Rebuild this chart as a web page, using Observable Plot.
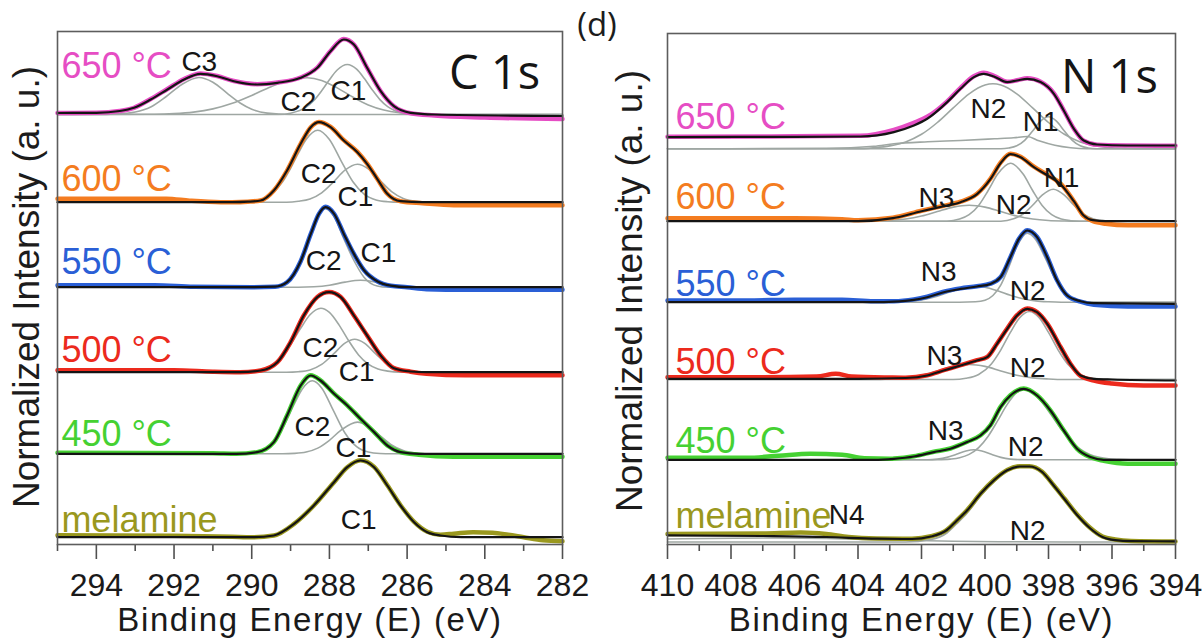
<!DOCTYPE html>
<html><head><meta charset="utf-8">
<script src="https://cdn.jsdelivr.net/npm/d3@7"></script>
<script src="https://cdn.jsdelivr.net/npm/@observablehq/plot@0.6"></script>
<style>
html,body{margin:0;padding:0;background:#fff;}
#wrap{position:relative;width:1204px;height:643px;overflow:hidden;background:#fff;font-family:"Liberation Sans",Arial,sans-serif;}
#left,#right{position:absolute;top:0;}
#left{left:0;} #right{left:600px;}
.ylab{position:absolute;font-size:37px;line-height:1;white-space:nowrap;color:#1c1c1c;transform:translate(-50%,-50%) rotate(-90deg);}
#tag{position:absolute;left:597px;top:1px;transform:translateX(-50%);font-family:"Open Sans",sans-serif;font-size:33px;line-height:normal;color:#1c1c1c;white-space:nowrap;z-index:5;}
</style></head>
<body><div id="wrap">
<div id="left"></div><div id="right"></div>
<div class="ylab" style="left:25.5px;top:287px">Normalized Intensity (a. u.)</div>
<div class="ylab" style="left:629px;top:291px">Normalized Intensity (a. u.)</div>
<div id="tag">(d)</div>
</div>
<script>
// ---------- shared ----------
const rowNames = ["650 °C", "600 °C", "550 °C", "500 °C", "450 °C", "melamine"];
const rowColors = ["#e64dc4", "#f47c20", "#2a5fd6", "#ec2a1d", "#45d132", "#9a981e"];
const axisTitle = "Binding Energy (E) (eV)";

// ---------- C 1s panel (binding energy eV, intensity a.u.) ----------
const cMajorTicks = [294, 292, 290, 288, 286, 284, 282];
const cMinorTicks = [295, 293, 291, 289, 287, 285, 283];
const cStackOffset = [430, 342.3, 257.3, 172.3, 90.7, 7.3];

const fitC650 = [[295,1.5],[294,1.7],[293.4,3.5],[293.03,6.7],[292.6,15],[292.17,25],[291.74,35],[291.32,40.7],[290.89,38.3],[290.46,33.3],[289.86,30],[289.34,31.7],[288.74,36.7],[288.31,46.7],[287.97,63.3],[287.63,75],[287.37,70],[287.03,46.7],[286.68,23.3],[286.34,8.3],[285.91,1.7],[285.3,0],[282,-1.5]];
const measC650 = [[295,1.5],[294,1.7],[293.4,3.5],[293.03,6.7],[292.6,15.5],[292.17,25.5],[291.74,35.5],[291.32,41],[290.89,38.5],[290.46,33.5],[289.86,30.3],[289.34,32],[288.74,37],[288.31,47],[287.97,63.5],[287.63,75.5],[287.37,70],[287.03,46.7],[286.68,23.3],[286.34,8.3],[285.91,1.2],[285.3,-1],[284,-3],[282,-4.5]];
const C3_650 = [[295,0],[294,0],[293.5,0.5],[293,2.5],[292.6,7.5],[292.2,18],[291.8,30],[291.36,37],[291,32.3],[290.6,20.2],[290.3,11.5],[290,5.3],[289.6,1.4],[289,0],[282,0]];
const C2_650 = [[295,0],[292.5,0.3],[292,0.9],[291.5,2.4],[291,5.6],[290.5,11.2],[290,19.1],[289.5,27.8],[289,34.6],[288.57,36.7],[288.2,34.1],[287.8,26.6],[287.4,17.5],[287,9.6],[286.6,4.5],[286.2,1.8],[285.8,0.6],[285.4,0],[282,0]];
const C1_650 = [[295,0],[289.3,0],[289,1.3],[288.6,7.3],[288.4,14],[288.2,23.7],[288,34.8],[287.8,44.5],[287.54,50],[287.3,45.3],[287.1,35.9],[286.9,24.8],[286.7,14.9],[286.5,7.8],[286.3,3.6],[286,0.9],[285.7,0],[282,0]];

const fitC600 = [[295,0],[290.5,0],[290.1,0.5],[289.77,1.7],[289.43,11.7],[289.09,31.7],[288.74,58.4],[288.48,75],[288.27,80],[287.97,75],[287.63,61.7],[287.28,50],[287.03,38.4],[286.77,23.4],[286.51,8.4],[286.17,1],[285.6,0],[282,0]];
const measC600 = [[295,3.5],[292.2,3.5],[291.6,1.5],[290.8,0],[290.5,0],[290.1,0.5],[289.77,1.7],[289.43,11.7],[289.09,31.7],[288.74,58.4],[288.48,75],[288.27,80.3],[287.97,75.3],[287.63,62],[287.28,50.3],[287.03,38.5],[286.77,23.4],[286.51,8.4],[286.17,1],[285.6,-1],[284.8,-3],[282,-3]];
const C2_600 = [[295,0],[290.2,0],[289.8,2.3],[289.5,7.9],[289.2,20.7],[289,33.9],[288.8,49],[288.6,62.7],[288.3,72],[288,62.7],[287.7,41.4],[287.4,20.7],[287.1,7.9],[286.8,2.3],[286.5,0.5],[286.2,0],[282,0]];
const C1_600 = [[295,0],[289.1,0],[288.8,0.9],[288.5,3.2],[288.2,9.4],[287.9,20.1],[287.6,32.1],[287.28,38],[287,33.4],[286.7,21.8],[286.4,10.6],[286.1,3.8],[285.8,1],[285.5,0],[282,0]];

const fitC550 = [[295,0],[290,0],[289.4,0.5],[289.09,5],[288.74,26],[288.48,53.3],[288.27,73.3],[288.1,80],[287.88,73.3],[287.63,53.3],[287.37,33.3],[287.11,17],[286.77,6],[286.42,1.5],[286,0],[282,0]];
const measC550 = [[295,2],[292.5,2],[291.5,0.5],[290,0],[289.4,0.5],[289.09,5],[288.74,26],[288.48,53.3],[288.27,73.3],[288.1,80.5],[287.88,73.5],[287.63,53.3],[287.37,33.3],[287.11,17],[286.77,6],[286.42,1.5],[286,0],[285.5,-2],[284.5,-2.5],[282,-2.5]];
const C2_550 = [[295,0],[289.6,0],[289.09,5],[288.74,25.9],[288.48,53],[288.27,72.6],[288.1,78.6],[287.88,70.5],[287.63,48.5],[287.37,26.7],[287.11,10],[286.77,1.2],[286.5,0],[282,0]];
const C1_550 = [[295,0],[288.8,0],[288.4,0.4],[288,1.9],[287.6,5.1],[287.2,7],[286.8,5.1],[286.4,1.9],[286,0.4],[285.6,0],[282,0]];

const fitC500 = [[295,0],[290.3,0],[289.77,1.7],[289.34,10],[289,30],[288.66,56.7],[288.31,75],[288.01,80],[287.71,75],[287.37,56.7],[287.03,36.7],[286.68,16.7],[286.34,4],[285.91,0.7],[285.5,0],[282,0]];
const measC500 = [[295,2],[292,2],[291,0.5],[290.3,0],[289.77,1.7],[289.34,10],[289,30],[288.66,56.7],[288.31,75.3],[288.01,80.3],[287.71,75.3],[287.37,56.7],[287.03,36.7],[286.68,16.7],[286.34,4],[285.91,0.5],[285.5,-1.5],[284.5,-3],[282,-3]];
const C2_500 = [[295,0],[290.3,0],[290,0.8],[289.75,2.5],[289.5,6.6],[289.25,14.7],[289,27.5],[288.75,43.3],[288.5,57.4],[288.22,64],[288,59.8],[287.75,47.1],[287.5,31.2],[287.25,17.3],[287,8.1],[286.75,3.2],[286.5,1.1],[286.2,0],[282,0]];
const C1_500 = [[295,0],[289.1,0],[288.8,0.5],[288.5,2.3],[288.2,7.8],[287.9,18],[287.6,29.1],[287.35,33],[287.1,29.1],[286.8,18],[286.5,7.8],[286.2,2.3],[285.9,0.5],[285.6,0],[282,0]];

const fitC450 = [[295,0],[290.4,0],[289.86,1.7],[289.43,11.7],[289.09,38.3],[288.74,68.3],[288.48,78.3],[288.23,73.3],[287.88,60],[287.54,48.3],[287.2,35],[286.85,21.7],[286.51,8.3],[286.17,1.7],[285.7,0],[282,0]];
const measC450 = [[295,1],[291,0.5],[290.4,0],[289.86,1.7],[289.43,11.7],[289.09,38.3],[288.74,68.3],[288.48,78.5],[288.23,73.5],[287.88,60.2],[287.54,48.5],[287.2,35],[286.85,21.7],[286.51,8.3],[286.17,1.7],[285.7,-1],[284.8,-3],[282,-3]];
const C2_450 = [[295,0],[290.3,0],[289.8,2.7],[289.5,9.9],[289.2,26.1],[288.9,50.1],[288.7,64.7],[288.44,73],[288.2,65.9],[287.9,43.4],[287.6,20.8],[287.3,7.2],[287,1.8],[286.7,0.3],[286.4,0],[282,0]];
const C1_450 = [[295,0],[289.2,0],[288.9,0.4],[288.6,1.8],[288.3,5.7],[288,13.5],[287.7,23.7],[287.28,31.7],[287,27.8],[286.7,18.2],[286.4,8.8],[286.1,3.2],[285.8,0.8],[285.5,0],[282,0]];

const fitCmel = [[295,0],[290,0],[289.43,1.7],[288.91,13.3],[288.4,31.7],[287.88,55],[287.54,70],[287.2,76.7],[286.85,70],[286.51,51.7],[286.17,31.7],[285.82,15],[285.48,5],[285.14,1.7],[284.6,0],[282,0]];
const measCmel = [[295,2],[292,1.5],[290.5,0.5],[290,0],[289.43,1.7],[288.91,13.3],[288.4,31.7],[287.88,55],[287.54,70],[287.2,77],[286.85,70.3],[286.51,52],[286.17,32],[285.82,15.3],[285.48,5.5],[285.14,2.5],[284.8,3.5],[284.3,5],[283.8,4.5],[283.4,2.5],[283,0],[282.5,-3],[282,-4]];
const C1_mel = [[295,0],[290,0],[289.43,1.5],[288.91,13],[288.4,31.5],[287.88,54.7],[287.54,69.7],[287.2,76.4],[286.85,69.7],[286.51,51.4],[286.17,31.4],[285.82,14.7],[285.48,4.7],[285.14,1.4],[284.6,0],[282,0]];

const cPeakLabels = [["C3",291.35,482],["C2",288.80,442.5],["C1",287.51,453],["C2",288.28,370],["C1",287.33,347],["C2",288.15,283],["C1",286.74,291],["C2",288.23,196],["C1",287.30,172],["C2",288.44,117],["C1",287.38,96],["C1",287.25,24]];
const cRowLabelPos = [[294.9,478.2],[294.9,365.2],[294.9,282.2],[294.9,194.2],[294.9,110.2],[294.9,24.2]];

// ---------- N 1s panel ----------
const nMajorTicks = [410, 408, 406, 404, 402, 400, 398, 396, 394];
const nMinorTicks = [409, 407, 405, 403, 401, 399, 397, 395];
const nStackOffset = [395.7, 323.3, 242.3, 165, 84.7, 2.5];

const fitN650 = [[410,11.7],[406,12],[403.92,12.3],[402.87,16.7],[402.24,23.3],[401.82,30],[401.19,46.7],[400.77,60],[400.35,71.7],[400.04,75],[399.72,72.3],[399.3,66.7],[398.99,68.3],[398.67,70],[398.25,66.7],[397.83,55],[397.52,38.3],[397.2,20],[396.89,8.3],[396.47,4.3],[395.52,3.3],[394,3.3]];
const measN650 = [[410,12],[406,12.5],[403.92,13],[402.87,19],[402.24,26],[401.82,32],[401.19,47.5],[400.77,61],[400.35,72.5],[400.04,76],[399.72,73],[399.3,67],[398.99,68.5],[398.67,70.5],[398.25,67],[397.83,55.5],[397.52,38.5],[397.2,20],[396.89,8],[396.47,4],[395.52,3.3],[394,3]];
const N2_650 = [[410,0],[404,0],[403.5,1],[403,2.9],[402.5,6.9],[402,14.5],[401.5,26.3],[401,40.9],[400.5,55],[400,63.8],[399.75,65],[399.5,63.8],[399,55],[398.5,40.9],[398,26.3],[397.5,14.5],[397,6.9],[396.5,2.9],[396,1],[395.5,0.3],[395,0],[394,0]];
const N1_650 = [[410,0],[399.5,0],[399.25,0.8],[399,3],[398.75,8.5],[398.5,17.7],[398.25,27.6],[398,32],[397.75,27.6],[397.5,17.7],[397.25,8.5],[397,3],[396.75,0.8],[396.5,0],[394,0]];
const Nb_650 = [[410,0],[405,0.5],[403.5,2.5],[402.87,5],[401.8,7],[400.77,8.3],[399.7,10],[399.1,11],[398.67,12.3],[398.3,8],[397.8,3.5],[397.3,1],[396.8,0],[394,0]];

const fitN600 = [[410,0],[404,0],[402.9,3],[402,10],[401.3,15],[400.77,19],[400.25,27],[399.83,42],[399.51,58],[399.2,67],[398.88,64],[398.46,54],[398.04,46],[397.62,37],[397.2,20],[396.9,6],[396.6,1],[396.2,0],[394,0]];
const measN600 = [[410,3],[406,3],[404.5,2],[404,1],[402.9,3.5],[402,10.5],[401.3,15.5],[400.77,19.5],[400.25,27.5],[399.83,42.5],[399.51,58.5],[399.2,67.5],[398.88,64.5],[398.46,54.5],[398.04,46.5],[397.62,37.5],[397.2,20],[396.9,5.5],[396.6,0],[396.2,-2.5],[395.5,-4],[394,-4]];
const N3_600 = [[410,0],[404,0],[403.5,0.2],[403,0.7],[402.5,2.2],[402,5.2],[401.5,9.7],[401,14.1],[400.5,16],[400,14.1],[399.5,9.7],[399,5.2],[398.5,2.2],[398,0.7],[397.5,0.2],[397,0],[394,0]];
const N2_600 = [[410,0],[401.2,0],[400.8,2.1],[400.5,6.5],[400.2,15.8],[399.9,30.7],[399.6,47.1],[399.2,58],[398.8,47.1],[398.5,30.7],[398.2,15.8],[397.9,6.5],[397.6,2.1],[397.3,0.5],[397,0],[394,0]];
const N1_600 = [[410,0],[399.5,0],[399.1,2.4],[398.8,7.2],[398.5,15.9],[398.2,26.1],[397.85,32],[397.5,26.1],[397.2,15.9],[396.9,7.2],[396.6,2.4],[396.3,0.6],[396,0],[394,0]];

const fitN550 = [[410,0],[403.5,0],[402.87,0.5],[402.24,2.3],[401.82,5],[401.3,10],[400.77,13.3],[400.25,15.7],[399.83,18.3],[399.51,25],[399.2,45],[398.93,63.3],[398.67,71.7],[398.36,65],[398.04,45],[397.73,21.7],[397.41,6.7],[396.99,1],[396.57,-1],[394,-1.7]];
const measN550 = [[410,1.7],[407.5,1.7],[406,2.5],[404.5,2.5],[403.5,1],[402.87,1],[402.24,2.8],[401.82,5.5],[401.3,10.5],[400.77,13.8],[400.25,16],[399.83,18.5],[399.51,25],[399.2,45],[398.93,63.5],[398.67,72],[398.36,65.3],[398.04,45.3],[397.73,22],[397.41,6.7],[396.99,0.5],[396.57,-2.5],[395.5,-4.3],[394,-4.3]];
const N3_550 = [[410,0],[403.5,0],[403,0.1],[402.5,0.6],[402,2.2],[401.5,5.9],[401,11.4],[400.6,15],[400.3,16],[400,15],[399.6,11.4],[399.2,6.9],[398.8,3.4],[398.4,1.3],[398,0.4],[397.6,0],[394,0]];
const N2_550 = [[410,0],[400.8,0],[400.3,0.4],[400,2],[399.75,6.7],[399.5,17.4],[399.25,35.2],[399,55.5],[398.67,69],[398.4,62.4],[398.1,44],[397.8,24.1],[397.5,10.3],[397.2,3.4],[396.9,0.9],[396.6,0.2],[396.3,0],[394,0]];

const fitN500 = [[410,0.7],[404,0.7],[402.5,1.5],[401.82,4],[401.3,9],[400.77,14],[400.25,19],[399.93,22.3],[399.62,35.7],[399.3,50.7],[398.99,64],[398.67,70.7],[398.36,67.3],[398.04,55.7],[397.62,32.3],[397.31,15.7],[396.99,4],[396.57,0.7],[396,0],[394,-1]];
const measN500 = [[410,2.3],[407,2.3],[405.3,3],[404.7,5.7],[404.2,3],[403,2],[402.5,1.8],[401.82,4.3],[401.3,9.3],[400.77,14.3],[400.25,19.3],[399.93,22.5],[399.62,36],[399.3,51],[398.99,64.3],[398.67,71],[398.36,67.5],[398.04,56],[397.62,32.5],[397.31,15.7],[396.99,3.5],[396.57,-1],[396,-4],[395,-6],[394,-6]];
const N3_500 = [[410,0],[403.5,0],[403,0.5],[402.5,1.6],[402,4.3],[401.5,8.6],[401,13.1],[400.5,15],[400,13.1],[399.5,8.6],[399,4.3],[398.5,1.6],[398,0.5],[397.5,0],[394,0]];
const N2_500 = [[410,0],[401,0],[400.6,1.2],[400.2,5],[399.8,15.6],[399.5,29.7],[399.2,47.1],[398.9,62],[398.6,68],[398.3,62],[398,47.1],[397.7,29.7],[397.4,15.6],[397,5],[396.6,1.2],[396.2,0.2],[395.8,0],[394,0]];

const fitN450 = [[410,0],[403.5,0],[402.87,1],[402.24,3.3],[401.61,7.7],[401.09,11],[400.56,17.7],[400.14,24.3],[399.83,34.3],[399.51,52.7],[399.2,64.3],[398.78,71],[398.36,64.3],[397.94,49.3],[397.52,29.3],[397.1,11],[396.68,2.7],[396.26,0],[394,0]];
const measN450 = [[410,2],[407.5,2],[406.5,4],[405.5,6],[404.5,5],[403.8,1.5],[403,1],[402.87,1.2],[402.24,3.5],[401.61,8],[401.09,11.3],[400.56,18],[400.14,24.5],[399.83,34.5],[399.51,53],[399.2,64.5],[398.78,71.3],[398.36,64.5],[397.94,49.5],[397.52,29.5],[397.1,11],[396.68,2.5],[396.26,-1],[395.5,-4],[394,-4]];
const N3_450 = [[410,0],[401.8,0],[401.5,0.7],[401.2,2.4],[400.9,5.5],[400.6,8.8],[400.35,10],[400.1,8.8],[399.8,5.5],[399.5,2.4],[399.2,0.7],[398.9,0.15],[398.6,0],[394,0]];
const N2_450 = [[410,0],[401.8,0],[401.5,0.1],[401.1,0.7],[400.8,2],[400.5,5.4],[400.2,12.2],[399.9,23.6],[399.6,39.1],[399.3,55.4],[399,67.1],[398.78,70],[398.5,66.8],[398.2,57.4],[397.9,44.3],[397.6,30.7],[397.3,19.2],[397,10.7],[396.7,5.4],[396.4,2.5],[396.1,1],[395.8,0.4],[395.4,0],[394,0]];

const fitNmel = [[410,6.7],[407,6],[405,5],[403.4,3.3],[402.3,3],[401.7,5.5],[401.2,12],[400.9,21],[400.56,31.7],[400.14,48.3],[399.72,61.7],[399.3,71.7],[398.9,75.5],[398.6,75.5],[398.2,70],[397.85,57],[397.5,43],[397.1,27],[396.7,14],[396.3,5],[395.9,1.8],[395.4,0.8],[394,0.7]];
const measNmel = [[410,8],[407,8.5],[405.8,9.5],[405,8],[404.3,5],[403.4,3.5],[402.3,3.2],[401.7,5.7],[401.2,12.2],[400.9,21.2],[400.56,32],[400.14,48.5],[399.72,62],[399.3,72],[398.9,75.8],[398.6,75.8],[398.2,70.3],[397.85,57.3],[397.5,43.5],[397.1,27.5],[396.7,14.5],[396.3,5.5],[395.9,2.5],[395.4,1],[394,0.5]];
const N4_mel = [[410,3],[407,4],[405,3.5],[403,2],[401,0.8],[399,0.2],[397.5,0],[394,0]];
const N2_mel = [[410,0],[402.5,0],[401.7,2.5],[401.2,9],[400.9,18],[400.56,29],[400.14,46],[399.72,60],[399.3,71],[398.9,75],[398.6,75],[398.2,70],[397.85,57],[397.5,43],[397.1,27],[396.7,14],[396.3,5],[395.9,1.8],[395.4,0.8],[394,0.5]];

const nPeakLabels = [["N2",399.89,435],["N1",398.25,422],["N3",401.53,346],["N2",399.10,339.5],["N1",397.59,366],["N3",401.46,272],["N2",398.66,253],["N3",401.28,188],["N2",398.66,176],["N3",401.24,113],["N2",398.72,97],["N4",404.36,29],["N2",398.66,13]];
const nRowLabelPos = [[409.75,426.9],[409.75,347.2],[409.75,260.2],[409.75,182.2],[409.75,103.2],[409.75,28.2]];

// ---------- drawing ----------
const GRAY = "#9fa7a3";
const FONT = "'Liberation Sans', Arial, sans-serif";

function toRows(pairs, off) {
  return d3.sort(pairs.map(([E, h]) => ({E, I: h + off})), d => d.E);
}

function panel(cfg) {
  const marks = [];
  cfg.comps.forEach((list, r) => list.forEach(c => marks.push(
    Plot.line(toRows(c, cfg.offsets[r]), {x: "E", y: "I", stroke: GRAY, strokeWidth: 1.6, curve: "monotone-x"})
  )));
  cfg.meas.forEach((m, r) => marks.push(
    Plot.line(toRows(m, cfg.offsets[r]), {x: "E", y: "I", stroke: rowColors[r], strokeWidth: 4.5, curve: "monotone-x", strokeLinejoin: "round"})
  ));
  cfg.fits.forEach((f, r) => marks.push(
    Plot.line(toRows(f, cfg.offsets[r]), {x: "E", y: "I", stroke: "#141414", strokeWidth: 2.2, curve: "monotone-x", strokeLinejoin: "round"})
  ));
  rowNames.forEach((name, r) => marks.push(
    Plot.text([name], {x: cfg.rowPos[r][0], y: cfg.rowPos[r][1], fill: rowColors[r], fontSize: 36, textAnchor: "start", lineAnchor: "middle"})
  ));
  marks.push(Plot.text(cfg.peaks, {x: d => d[1], y: d => d[2], text: d => d[0], fill: "#151515", fontSize: 28, textAnchor: "middle", lineAnchor: "middle"}));
  marks.push(Plot.text([cfg.title], {x: cfg.titlePos[0], y: cfg.titlePos[1], fill: "#151515", fontSize: 47, fontFamily: "'Open Sans', sans-serif", textAnchor: "middle", lineAnchor: "middle"}));
  // tick marks below the frame (1 y-unit = 1 px)
  marks.push(Plot.ruleX(cfg.major, {x: d => d, y1: 0, y2: -15, stroke: "#505050", strokeWidth: 1.6}));
  marks.push(Plot.ruleX(cfg.minor, {x: d => d, y1: 0, y2: -7, stroke: "#505050", strokeWidth: 1.6}));
  // tick labels
  marks.push(Plot.text(cfg.major, {x: d => d, y: -40.8, text: d => String(d), fontSize: 32, fill: "#1a1a1a", textAnchor: "middle", lineAnchor: "middle"}));
  // axis title
  marks.push(Plot.text([axisTitle], {frameAnchor: "bottom", dy: 75.5, fontSize: 33, fill: "#1a1a1a", lineAnchor: "middle"}));
  marks.push(Plot.frame({stroke: "#5d5d5d", strokeWidth: 1.6}));
  const svg = Plot.plot({
    width: cfg.width, height: 643,
    marginLeft: cfg.ml, marginRight: cfg.mr, marginTop: cfg.mt, marginBottom: 99,
    x: {domain: cfg.domain, axis: null},
    y: {domain: [0, cfg.ymax], axis: null},
    style: {fontFamily: FONT, fontSize: "30px", color: "#1a1a1a", background: "transparent", overflow: "visible"},
    marks
  });
  d3.select(svg).selectAll("text")
    .filter(function() { return this.textContent === axisTitle; })
    .style("letter-spacing", "1.6px");
  return svg;
}

document.getElementById("left").append(panel({
  width: 600, ml: 57, mr: 38, mt: 31, ymax: 513, domain: [295, 282],
  offsets: cStackOffset,
  fits: [fitC650, fitC600, fitC550, fitC500, fitC450, fitCmel],
  meas: [measC650, measC600, measC550, measC500, measC450, measCmel],
  comps: [[C3_650, C2_650, C1_650], [C2_600, C1_600], [C2_550, C1_550], [C2_500, C1_500], [C2_450, C1_450], [C1_mel]],
  rowPos: cRowLabelPos, peaks: cPeakLabels,
  title: "C 1s", titlePos: [283.75, 471],
  major: cMajorTicks, minor: cMinorTicks
}));

document.getElementById("right").append(panel({
  width: 604, ml: 67, mr: 29, mt: 33, ymax: 511, domain: [410, 394],
  offsets: nStackOffset,
  fits: [fitN650, fitN600, fitN550, fitN500, fitN450, fitNmel],
  meas: [measN650, measN600, measN550, measN500, measN450, measNmel],
  comps: [[Nb_650, N2_650, N1_650], [N3_600, N2_600, N1_600], [N3_550, N2_550], [N3_500, N2_500], [N3_450, N2_450], [N4_mel, N2_mel]],
  rowPos: nRowLabelPos, peaks: nPeakLabels,
  title: "N 1s", titlePos: [396.08, 467],
  major: nMajorTicks, minor: nMinorTicks
}));
</script>
</body></html>
